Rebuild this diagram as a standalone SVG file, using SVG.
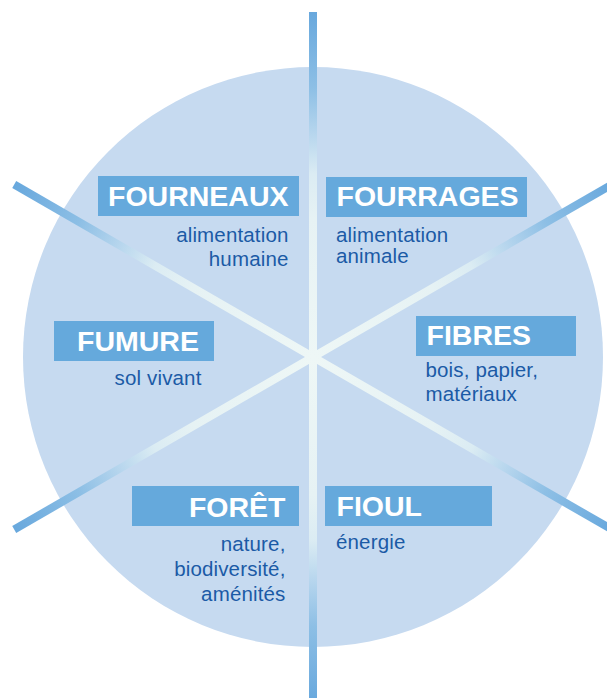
<svg xmlns="http://www.w3.org/2000/svg" xmlns:xlink="http://www.w3.org/1999/xlink" width="607" height="698" viewBox="0 0 607 698">
  <defs>
    <linearGradient id="rayGrad" gradientUnits="userSpaceOnUse" x1="0" y1="-345" x2="0" y2="0">
      <stop offset="0" stop-color="#68a8dd"/>
      <stop offset="0.22" stop-color="#8dbfe5"/>
      <stop offset="0.36" stop-color="#b9d7ee"/>
      <stop offset="0.47" stop-color="#dbecf3"/>
      <stop offset="0.6" stop-color="#e6f2f4"/>
      <stop offset="1" stop-color="#eef7f6"/>
    </linearGradient>
    <line id="ray" x1="0" y1="-345" x2="0" y2="0" stroke="url(#rayGrad)" stroke-width="8"/>
  </defs>
  <style>
    .box { fill: #65a9dc; }
    .title { font-family: "Liberation Sans", Arial, sans-serif; font-weight: bold; font-size: 28.5px; fill: #ffffff; }
    .sub { font-family: "Liberation Sans", Arial, sans-serif; font-size: 20.5px; fill: #1b5aa6; letter-spacing: 0.15px; }
    .end { text-anchor: end; }
  </style>
  <rect width="607" height="698" fill="#ffffff"/>
  <circle id="disc" cx="313" cy="357" r="290" fill="#c6daf0"/>
  <g id="connectors" transform="translate(313,357)">
    <use xlink:href="#ray" transform="rotate(0)"/>
    <use xlink:href="#ray" transform="rotate(60)"/>
    <use xlink:href="#ray" transform="rotate(120)"/>
    <use xlink:href="#ray" transform="rotate(180)"/>
    <use xlink:href="#ray" transform="rotate(240)"/>
    <use xlink:href="#ray" transform="rotate(300)"/>
  </g>
  <g id="fourneaux">
    <rect class="box" x="98" y="176" width="201" height="40"/>
    <text class="title end" x="288.5" y="206">FOURNEAUX</text>
    <text class="sub end" x="288.5" y="241.7">alimentation</text>
    <text class="sub end" x="288.5" y="266">humaine</text>
  </g>
  <g id="fourrages">
    <rect class="box" x="326" y="177" width="201" height="40"/>
    <text class="title" x="336.5" y="206">FOURRAGES</text>
    <text class="sub" x="336" y="242">alimentation</text>
    <text class="sub" x="336" y="263">animale</text>
  </g>
  <g id="fumure">
    <rect class="box" x="54" y="321" width="160" height="40"/>
    <text class="title" x="77" y="350.7">FUMURE</text>
    <text class="sub end" x="201.5" y="385">sol vivant</text>
  </g>
  <g id="fibres">
    <rect class="box" x="416" y="316" width="160" height="40"/>
    <text class="title" x="426.5" y="345">FIBRES</text>
    <text class="sub" x="425.5" y="376.7">bois, papier,</text>
    <text class="sub" x="425.5" y="400.7">matériaux</text>
  </g>
  <g id="foret">
    <rect class="box" x="132" y="486" width="167" height="40"/>
    <text class="title end" x="285.5" y="516.5">FORÊT</text>
    <text class="sub end" x="285.5" y="551">nature,</text>
    <text class="sub end" x="285.5" y="575.7">biodiversité,</text>
    <text class="sub end" x="285.5" y="601">aménités</text>
  </g>
  <g id="fioul">
    <rect class="box" x="325" y="486" width="167" height="40"/>
    <text class="title" x="336.5" y="516">FIOUL</text>
    <text class="sub" x="336" y="549">énergie</text>
  </g>
</svg>
